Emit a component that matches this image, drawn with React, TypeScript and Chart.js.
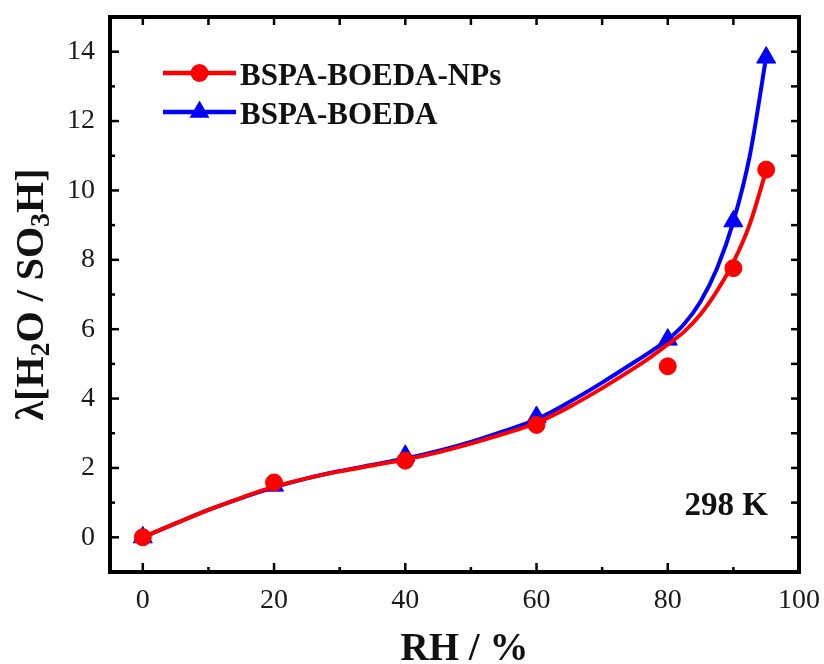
import React, { useEffect, useRef } from "react";
import { Chart, registerables } from "chart.js";

Chart.register(...registerables);

// ---- Data ----
const rhPoints = [0, 20, 40, 60, 80, 90, 95];
const npsValues = [0, 1.58, 2.21, 3.24, 4.93, 7.76, 10.6];
const boedaValues = [0, 1.49, 2.35, 3.47, 5.7, 9.11, 13.83];

const fitRH = [0, 5, 10, 15, 20, 25, 30, 35, 40, 45, 50, 55, 60, 65, 70, 75, 77.5, 80, 82.5, 85, 87.5, 90, 92.5, 95];
const npsFit = [0, 0.4, 0.79, 1.14, 1.46, 1.7, 1.9, 2.07, 2.24, 2.45, 2.7, 2.98, 3.3, 3.76, 4.3, 4.89, 5.21, 5.56, 5.93, 6.43, 7.1, 7.93, 9.03, 10.58];
const boedaFit = [0, 0.4, 0.79, 1.13, 1.44, 1.7, 1.91, 2.09, 2.27, 2.49, 2.75, 3.06, 3.4, 3.9, 4.46, 5.06, 5.37, 5.7, 6.15, 6.8, 7.75, 9.1, 11.0, 13.85];

const seriesNames = ["BSPA-BOEDA-NPs", "BSPA-BOEDA"];
const seriesColors = ["#ff0000", "#0000ff"];
const xTicks = [0, 20, 40, 60, 80, 100];
const yTicks = [0, 2, 4, 6, 8, 10, 12, 14];
const xTitle = "RH / %";
const yTitleParts = [
  { t: "λ[H", sub: false },
  { t: "2", sub: true },
  { t: "O / SO", sub: false },
  { t: "3", sub: true },
  { t: "H]", sub: false },
];
const tempLabel = "298 K";

const SERIF = "'Liberation Serif', 'Times New Roman', serif";

const midpoints = (arr: number[]) => arr.slice(0, -1).map((v, i) => (v + arr[i + 1]) / 2);

const decorPlugin = {
  id: "decor",
  afterDraw(chart: any) {
    const ctx = chart.ctx as CanvasRenderingContext2D;
    const { left, right, top, bottom } = chart.chartArea;
    const xs = chart.scales.x;
    const ys = chart.scales.y;
    ctx.save();
    ctx.strokeStyle = "#000";
    ctx.lineCap = "butt";

    // inward ticks
    ctx.lineWidth = 2.5;
    const xMinor = midpoints(xTicks);
    const yMinor = midpoints(yTicks);
    const line = (x1: number, y1: number, x2: number, y2: number) => {
      ctx.beginPath();
      ctx.moveTo(x1, y1);
      ctx.lineTo(x2, y2);
      ctx.stroke();
    };
    xTicks.forEach((v) => {
      const p = xs.getPixelForValue(v);
      line(p, bottom, p, bottom - 9);
      line(p, top, p, top + 8);
    });
    xMinor.forEach((v) => {
      const p = xs.getPixelForValue(v);
      line(p, bottom, p, bottom - 5);
      line(p, top, p, top + 8);
    });
    yTicks.forEach((v) => {
      const p = ys.getPixelForValue(v);
      line(left, p, left + 9, p);
      line(right, p, right - 8, p);
    });
    yMinor.forEach((v) => {
      const p = ys.getPixelForValue(v);
      line(left, p, left + 5, p);
      line(right, p, right - 8, p);
    });

    // frame
    ctx.lineWidth = 4;
    ctx.strokeRect(left, top, right - left, bottom - top);

    // legend
    const legendY = [top + 56, top + 95];
    const lx1 = left + 53;
    const lx2 = left + 126;
    const mx = (lx1 + lx2) / 2;
    ctx.font = `bold 31px ${SERIF}`;
    ctx.textBaseline = "alphabetic";
    ctx.textAlign = "left";
    seriesNames.forEach((name, i) => {
      const y = legendY[i];
      ctx.strokeStyle = seriesColors[i];
      ctx.fillStyle = seriesColors[i];
      ctx.lineWidth = 4.5;
      line(lx1, y, lx2, y);
      ctx.beginPath();
      if (i === 0) {
        ctx.arc(mx, y, 9, 0, Math.PI * 2);
      } else {
        const r = 11.5;
        ctx.moveTo(mx, y - r);
        ctx.lineTo(mx + r * Math.sin((2 * Math.PI) / 3), y - r * Math.cos((2 * Math.PI) / 3));
        ctx.lineTo(mx + r * Math.sin((4 * Math.PI) / 3), y - r * Math.cos((4 * Math.PI) / 3));
        ctx.closePath();
      }
      ctx.fill();
      ctx.fillStyle = "#111";
      ctx.fillText(name, lx2 + 4, y + 11.5);
    });

    // temperature label
    ctx.fillStyle = "#111";
    ctx.font = `bold 33px ${SERIF}`;
    ctx.textAlign = "right";
    ctx.fillText(tempLabel, right - 31, bottom - 57);

    // x title
    ctx.font = `bold 39px ${SERIF}`;
    ctx.textAlign = "center";
    ctx.fillText(xTitle, (left + right) / 2 + 10, 660);

    // y title with subscripts
    const mainFont = `bold 40px ${SERIF}`;
    const subFont = `bold 28px ${SERIF}`;
    let total = 0;
    yTitleParts.forEach((p) => {
      ctx.font = p.sub ? subFont : mainFont;
      total += ctx.measureText(p.t).width;
    });
    ctx.translate(43, (top + bottom) / 2);
    ctx.rotate(-Math.PI / 2);
    ctx.textAlign = "left";
    let cx = -total / 2;
    yTitleParts.forEach((p) => {
      ctx.font = p.sub ? subFont : mainFont;
      ctx.fillText(p.t, cx, p.sub ? 6 : 0);
      cx += ctx.measureText(p.t).width;
    });
    ctx.restore();
  },
};

const zeroPad = (s: any) => {
  s.paddingTop = 0;
  s.paddingBottom = 0;
  s.paddingLeft = 0;
  s.paddingRight = 0;
};

export default function App() {
  const canvasRef = useRef<HTMLCanvasElement | null>(null);

  useEffect(() => {
    if (!canvasRef.current) return;
    const toXY = (xs: number[], ys: number[]) => xs.map((x, i) => ({ x, y: ys[i] }));
    const chart = new Chart(canvasRef.current, {
      type: "line",
      data: {
        datasets: [
          {
            label: seriesNames[0],
            data: toXY(rhPoints, npsValues),
            showLine: false,
            pointStyle: "circle",
            pointRadius: 8.5,
            pointBackgroundColor: seriesColors[0],
            pointBorderColor: seriesColors[0],
            pointBorderWidth: 1,
            borderColor: seriesColors[0],
            backgroundColor: seriesColors[0],
          },
          {
            label: seriesNames[0] + " fit",
            data: toXY(fitRH, npsFit),
            borderColor: seriesColors[0],
            borderWidth: 4,
            pointRadius: 0,
            cubicInterpolationMode: "monotone",
            fill: false,
          },
          {
            label: seriesNames[1],
            data: toXY(rhPoints, boedaValues),
            showLine: false,
            pointStyle: "triangle",
            pointRadius: 11,
            pointBackgroundColor: seriesColors[1],
            pointBorderColor: seriesColors[1],
            pointBorderWidth: 1,
            borderColor: seriesColors[1],
            backgroundColor: seriesColors[1],
          },
          {
            label: seriesNames[1] + " fit",
            data: toXY(fitRH, boedaFit),
            borderColor: seriesColors[1],
            borderWidth: 4,
            pointRadius: 0,
            cubicInterpolationMode: "monotone",
            fill: false,
          },
        ],
      },
      options: {
        animation: false,
        responsive: false,
        maintainAspectRatio: false,
        layout: { padding: { left: 0, top: 17, right: 25, bottom: 0 } },
        plugins: {
          legend: { display: false },
          tooltip: { enabled: false },
          title: { display: false },
        },
        scales: {
          x: {
            type: "linear",
            min: -5,
            max: 100,
            afterBuildTicks: (s: any) => {
              s.ticks = xTicks.map((v) => ({ value: v }));
            },
            afterFit: (s: any) => {
              s.height = 92;
              zeroPad(s);
            },
            grid: { display: false, drawTicks: false },
            border: { display: false },
            ticks: {
              padding: 12,
              color: "#1a1a1a",
              font: { family: SERIF, size: 28 },
              maxRotation: 0,
              autoSkip: false,
            },
          },
          y: {
            type: "linear",
            min: -1,
            max: 15,
            afterBuildTicks: (s: any) => {
              s.ticks = yTicks.map((v) => ({ value: v }));
            },
            afterFit: (s: any) => {
              s.width = 110;
              zeroPad(s);
            },
            grid: { display: false, drawTicks: false },
            border: { display: false },
            ticks: {
              padding: 15,
              color: "#1a1a1a",
              font: { family: SERIF, size: 28 },
              autoSkip: false,
            },
          },
        },
      } as any,
      plugins: [decorPlugin],
    });
    return () => chart.destroy();
  }, []);

  return (
    <div style={{ position: "fixed", left: 0, top: 0, width: 824, height: 664, background: "#fff" }}>
      <canvas ref={canvasRef} width={824} height={664} style={{ display: "block" }} />
    </div>
  );
}
